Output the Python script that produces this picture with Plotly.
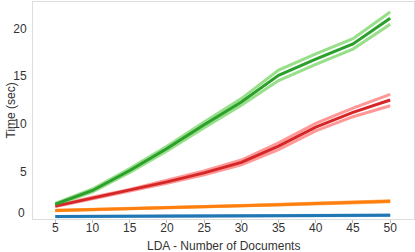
import plotly.graph_objects as go

docs = [5, 10, 15, 20, 25, 30, 35, 40, 45, 50]

blue_mean = [0.25, 0.26, 0.27, 0.28, 0.29, 0.30, 0.32, 0.34, 0.37, 0.40]
blue_lo = [0.24, 0.25, 0.26, 0.27, 0.28, 0.29, 0.30, 0.32, 0.33, 0.36]
blue_hi = [0.26, 0.27, 0.28, 0.29, 0.30, 0.31, 0.33, 0.36, 0.40, 0.43]

orange_mean = [0.90, 1.00, 1.07, 1.13, 1.25, 1.38, 1.50, 1.62, 1.73, 1.87]
orange_lo = [0.87, 0.97, 1.04, 1.10, 1.21, 1.34, 1.46, 1.57, 1.68, 1.82]
orange_hi = [0.93, 1.03, 1.10, 1.16, 1.29, 1.42, 1.54, 1.67, 1.78, 1.92]

red_mean = [1.35, 2.20, 3.00, 3.90, 4.85, 5.95, 7.65, 9.65, 11.20, 12.50]
red_lo = [1.30, 2.10, 2.90, 3.75, 4.65, 5.70, 7.30, 9.25, 10.75, 11.90]
red_hi = [1.40, 2.30, 3.10, 4.05, 5.05, 6.20, 8.00, 10.05, 11.65, 13.10]

green_mean = [1.55, 3.00, 5.10, 7.40, 9.90, 12.30, 15.10, 16.80, 18.40, 21.10]
green_lo = [1.45, 2.85, 4.90, 7.15, 9.60, 11.95, 14.55, 16.25, 17.85, 20.45]
green_hi = [1.65, 3.15, 5.30, 7.65, 10.20, 12.65, 15.65, 17.35, 18.95, 21.75]

x_ticks = [5, 10, 15, 20, 25, 30, 35, 40, 45, 50]
y_ticks = [5, 10, 15, 20]
x_title = "LDA - Number of Documents"
y_title = "Time (sec)"

series = [
    (blue_mean, blue_lo, blue_hi, "#1f77b4", "#aec7e8"),
    (orange_mean, orange_lo, orange_hi, "#ff7f0e", "#ffbb78"),
    (red_mean, red_lo, red_hi, "#d62728", "#ff9896"),
    (green_mean, green_lo, green_hi, "#2ca02c", "#98df8a"),
]

fig = go.Figure()
for mean, lo, hi, dark, light in series:
    for band in (lo, hi):
        fig.add_trace(go.Scatter(x=docs, y=band, mode="lines",
                                 line=dict(color=light, width=3),
                                 hoverinfo="skip", showlegend=False))
for mean, lo, hi, dark, light in series:
    fig.add_trace(go.Scatter(x=docs, y=mean, mode="lines",
                             line=dict(color=dark, width=3),
                             showlegend=False))

W, H = 415, 252
ML, MR, MT, MB = 33, 1, 2, 33
pw, ph = W - ML - MR, H - MT - MB

font = dict(family="Liberation Sans, Arial, sans-serif", size=12, color="#333333")
fig.update_layout(
    width=W, height=H,
    margin=dict(l=ML, r=MR, t=MT, b=MB, autoexpand=False),
    plot_bgcolor="white", paper_bgcolor="white",
    font=font,
    showlegend=False,
    xaxis=dict(range=[2, 53.2], tickvals=x_ticks, showgrid=False, zeroline=False,
               automargin=False,
               showline=True, mirror=True, linecolor="#dddddd", linewidth=1,
               ticks="outside", ticklen=3, tickcolor="#bbbbbb",
               ticklabelstandoff=-5),
    yaxis=dict(range=[0, 22.8], tickvals=y_ticks, showgrid=False, zeroline=False,
               automargin=False,
               showline=True, mirror=True, linecolor="#dddddd", linewidth=1,
               ticks="", ticklabelstandoff=3),
    annotations=[
        dict(text=x_title, xref="paper", yref="paper", x=0.5,
             y=-(246 - (H - MB)) / ph, xanchor="center", yanchor="middle",
             showarrow=False, font=font),
        dict(text=y_title, xref="paper", yref="paper", x=(10 - ML) / pw,
             y=0.5, xanchor="center", yanchor="middle", textangle=-90,
             showarrow=False, font=font),
        dict(text="0", xref="paper", yref="paper", x=(27 - ML) / pw,
             y=((H - MB) - 213) / ph, xanchor="right", yanchor="middle",
             showarrow=False, font=font),
    ],
)

fig.write_html("out.html", config={"displayModeBar": False},
               post_script="document.body.style.margin='0';document.body.style.overflow='hidden';")
